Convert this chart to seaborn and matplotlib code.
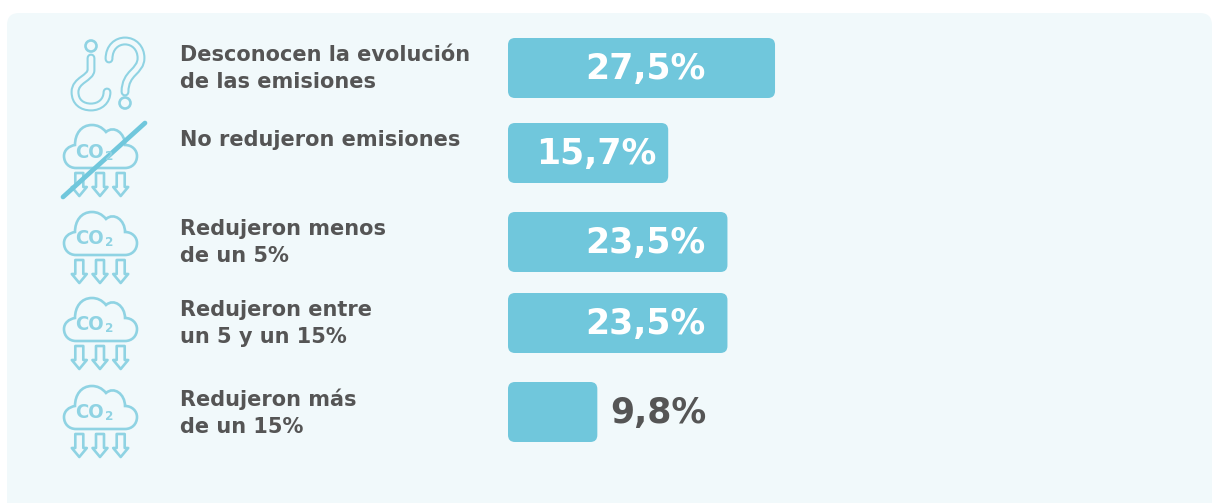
import matplotlib
matplotlib.use('Agg')
import matplotlib.pyplot as plt
import seaborn as sns
from matplotlib.patches import FancyBboxPatch, PathPatch, Circle, Polygon
from matplotlib.path import Path

# Row texts
row_labels = ['Desconocen la evolución\nde las emisiones',
              'No redujeron emisiones',
              'Redujeron menos\nde un 5%',
              'Redujeron entre\nun 5 y un 15%',
              'Redujeron más\nde un 15%']
value_labels = ['27,5%', '15,7%', '23,5%', '23,5%', '9,8%']
# The source bars are not quite proportional to their labels, so lengths are read off the bars
bar_lengths = [27.5, 16.5, 22.6, 22.6, 9.2]

# Layout in pixels
W, H = 1212, 503
PX_PER_UNIT = 9.71
BAR_LEFT = 508
BAR_H = 60
row_centers = [68, 153, 242, 323, 412]
text_tops = [45, 130, 219, 300, 389]
value_right = [706, 656, 706, 706, 706]
cloud_tops = [125, 212, 298, 386]

PANEL = '#F1F9FB'
BAR = '#70C7DC'
ICON = '#8FD3E3'
GREY = '#555555'

fig = plt.figure(figsize=(W / 100, H / 100), dpi=100, facecolor='white')

px = fig.add_axes([0, 0, 1, 1])
px.set_xlim(0, W)
px.set_ylim(H, 0)
px.axis('off')

px.add_patch(FancyBboxPatch((7, 13), W - 7, H, boxstyle='round,pad=0,rounding_size=12',
                            fc=PANEL, ec='none'))


def cloud_icon(x0, y0):
    M, L, C = Path.MOVETO, Path.LINETO, Path.CURVE4
    pts = [(12, 43), (61, 43),
           (68, 43), (73, 38), (73, 31),
           (73, 25), (68, 20), (61, 20),
           (61, 8), (50, 0), (42, 7),
           (38, 2), (33, 0), (28, 0),
           (17, 0), (11, 9), (11, 20),
           (5, 21), (0, 25), (0, 31),
           (0, 38), (5, 43), (12, 43)]
    codes = [M, L] + [C] * 21
    pts = [(x0 + a, y0 + b) for a, b in pts]
    px.add_patch(PathPatch(Path(pts, codes), fc='none', ec=ICON, lw=1.9))
    for cx in (15.3, 36, 56.7):
        arrow = [(-4, 48), (4, 48), (4, 62), (7.5, 62), (0, 71), (-7.5, 62), (-4, 62)]
        px.add_patch(Polygon([(x0 + cx + a, y0 + b) for a, b in arrow], closed=True,
                             fc='none', ec=ICON, lw=1.9, joinstyle='round'))
    px.text(x0 + 25, y0 + 27, 'CO', ha='center', va='center', color=ICON, fontsize=14.5,
            family='DejaVu Sans', stretch='condensed', weight='bold')
    px.text(x0 + 45, y0 + 31, '2', ha='center', va='center', color=ICON, fontsize=9.5,
            family='DejaVu Sans', stretch='condensed', weight='bold')


def hook(pts, codes):
    # outlined stroke: a thick line with a thinner panel coloured line inside
    p = Path(pts, codes)
    px.add_patch(PathPatch(p, fc='none', ec=ICON, lw=6.4, capstyle='round', joinstyle='round'))
    px.add_patch(PathPatch(p, fc='none', ec=PANEL, lw=3.4, capstyle='round', joinstyle='round'))


def question_icon():
    M, L, C = Path.MOVETO, Path.LINETO, Path.CURVE4
    hook([(109, 59), (109, 47), (117, 41), (125, 41),
          (134, 41), (141, 48), (141, 58),
          (141, 72), (125, 72), (125, 92)],
         [M, C, C, C, C, C, C, C, C, C])
    hook([(91, 58), (91, 70),
          (91, 78), (75, 80), (75, 92),
          (75, 102), (82, 107), (91, 107),
          (100, 107), (107, 101), (107, 92)],
         [M, L, C, C, C, C, C, C, C, C, C])
    for c in ((91, 46), (125, 103)):
        px.add_patch(Circle(c, 5.5, fc='none', ec=ICON, lw=1.9))


question_icon()
for top in cloud_tops:
    cloud_icon(64, top)
px.plot([63, 145], [197, 123], color=BAR, lw=3.4, solid_capstyle='round')

ax = fig.add_axes([0, 0, 1, 1], facecolor='none')
sns.barplot(x=bar_lengths, y=row_centers, orient='h', native_scale=True, color=BAR,
            saturation=1, ax=ax)
ax.set_xlim(-BAR_LEFT / PX_PER_UNIT, (W - BAR_LEFT) / PX_PER_UNIT)
ax.set_ylim(H, 0)
ax.axis('off')

# swap the square bars for rounded ones of the same length
for bar in list(ax.patches):
    cy = bar.get_y() + bar.get_height() / 2
    ax.add_patch(FancyBboxPatch((bar.get_x(), cy - BAR_H / 2), bar.get_width(), BAR_H,
                                boxstyle='round,pad=0,rounding_size=%.3f' % (7 / PX_PER_UNIT),
                                mutation_aspect=PX_PER_UNIT, fc=BAR, ec='none'))
    bar.remove()

for i, text in enumerate(row_labels):
    ax.text(180, text_tops[i], text, ha='left', va='top', fontsize=15, fontweight='bold',
            color=GREY, linespacing=1.43, transform=px.transData)

for i, text in enumerate(value_labels):
    ax.text(value_right[i], row_centers[i] + 1, text, ha='right', va='center', fontsize=25,
            fontweight='bold', color='white' if i < 4 else GREY, transform=px.transData)

fig.savefig('out.png', dpi=100)
